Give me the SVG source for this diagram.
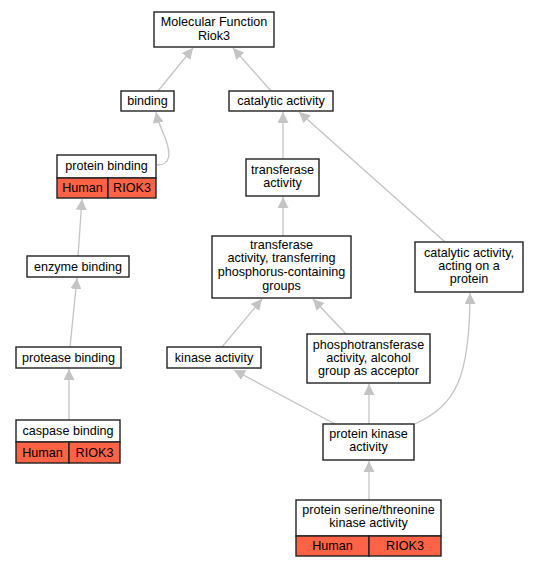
<svg xmlns="http://www.w3.org/2000/svg" width="537" height="568" viewBox="0 0 537 568">
<style>
.b{fill:#fff;stroke:#222;stroke-width:1.4}
.r{fill:#ff6347;stroke:#222;stroke-width:1.4}
.t{font-family:"Liberation Sans",Arial,sans-serif;font-size:12.6px;fill:#000;text-anchor:middle}
.e{fill:none;stroke:#c4c4c4;stroke-width:1.3;marker-end:url(#a)}
</style>
<defs>
<marker id="a" viewBox="0 0 10 10" refX="10" refY="5" markerWidth="11" markerHeight="11" markerUnits="userSpaceOnUse" orient="auto">
<path d="M0,0L10,5L0,10z" fill="#c4c4c4"/>
</marker>
</defs>
<rect width="537" height="568" fill="#fff"/>
<g id="edges">
<path class="e" d="M158,91L193,48"/>
<path class="e" d="M271,91L233,48"/>
<path class="e" d="M157,165C172,165 170,152 166,140C162,130 158,122 156,112"/>
<path class="e" d="M283,159L283,112"/>
<path class="e" d="M445,242L299,112"/>
<path class="e" d="M283,236L283,197"/>
<path class="e" d="M78,256L82,199"/>
<path class="e" d="M70,347L77,278"/>
<path class="e" d="M69,420L69,369"/>
<path class="e" d="M222,347L262,299"/>
<path class="e" d="M346,334L313,299"/>
<path class="e" d="M335,424L234,370"/>
<path class="e" d="M369,424L369,384"/>
<path class="e" d="M415,424C455,405 470,380 470,293"/>
<path class="e" d="M369,500L369,461"/>
</g>
<g id="mf"><rect class="b" x="154" y="12" width="120" height="35"/><text class="t" x="214" y="26">Molecular Function</text><text class="t" x="214" y="40">Riok3</text></g>
<g id="binding"><rect class="b" x="121" y="91" width="53" height="20"/><text class="t" x="147.5" y="105">binding</text></g>
<g id="catalytic"><rect class="b" x="229" y="91" width="104" height="20"/><text class="t" x="281" y="105">catalytic activity</text></g>
<g id="protein_binding"><rect class="b" x="57" y="155" width="99" height="23"/><rect class="r" x="57" y="178" width="51" height="20"/><rect class="r" x="108" y="178" width="48" height="20"/><text class="t" x="106.5" y="170">protein binding</text><text class="t" x="82.5" y="192">Human</text><text class="t" x="132" y="192">RIOK3</text></g>
<g id="enzyme_binding"><rect class="b" x="27" y="256" width="102" height="21"/><text class="t" x="78" y="271">enzyme binding</text></g>
<g id="protease_binding"><rect class="b" x="16" y="347" width="105" height="21"/><text class="t" x="68.5" y="362">protease binding</text></g>
<g id="caspase_binding"><rect class="b" x="16" y="420" width="104" height="22"/><rect class="r" x="16" y="442" width="53" height="21"/><rect class="r" x="69" y="442" width="51" height="21"/><text class="t" x="68" y="435">caspase binding</text><text class="t" x="42.5" y="457">Human</text><text class="t" x="94.5" y="457">RIOK3</text></g>
<g id="transferase"><rect class="b" x="246" y="159" width="73" height="37"/><text class="t" x="282.5" y="174">transferase</text><text class="t" x="282.5" y="187">activity</text></g>
<g id="transferring"><rect class="b" x="212" y="236" width="139" height="62"/><text class="t" x="281.5" y="249">transferase</text><text class="t" x="281.5" y="262">activity, transferring</text><text class="t" x="281.5" y="276">phosphorus-containing</text><text class="t" x="281.5" y="290">groups</text></g>
<g id="cat_protein"><rect class="b" x="415" y="242" width="108" height="50"/><text class="t" x="469" y="257">catalytic activity,</text><text class="t" x="469" y="270">acting on a</text><text class="t" x="469" y="283">protein</text></g>
<g id="kinase"><rect class="b" x="167" y="347" width="94" height="21"/><text class="t" x="214" y="362">kinase activity</text></g>
<g id="phospho"><rect class="b" x="307" y="334" width="123" height="49"/><text class="t" x="368.5" y="349">phosphotransferase</text><text class="t" x="368.5" y="362">activity, alcohol</text><text class="t" x="368.5" y="375">group as acceptor</text></g>
<g id="protein_kinase"><rect class="b" x="323" y="424" width="91" height="36"/><text class="t" x="368.5" y="438">protein kinase</text><text class="t" x="368.5" y="451">activity</text></g>
<g id="ser_thr"><rect class="b" x="296" y="500" width="145" height="36"/><rect class="r" x="296" y="536" width="73" height="20"/><rect class="r" x="369" y="536" width="72" height="20"/><text class="t" x="368.5" y="514">protein serine/threonine</text><text class="t" x="368.5" y="527">kinase activity</text><text class="t" x="332.5" y="550">Human</text><text class="t" x="405" y="550">RIOK3</text></g>
</svg>
